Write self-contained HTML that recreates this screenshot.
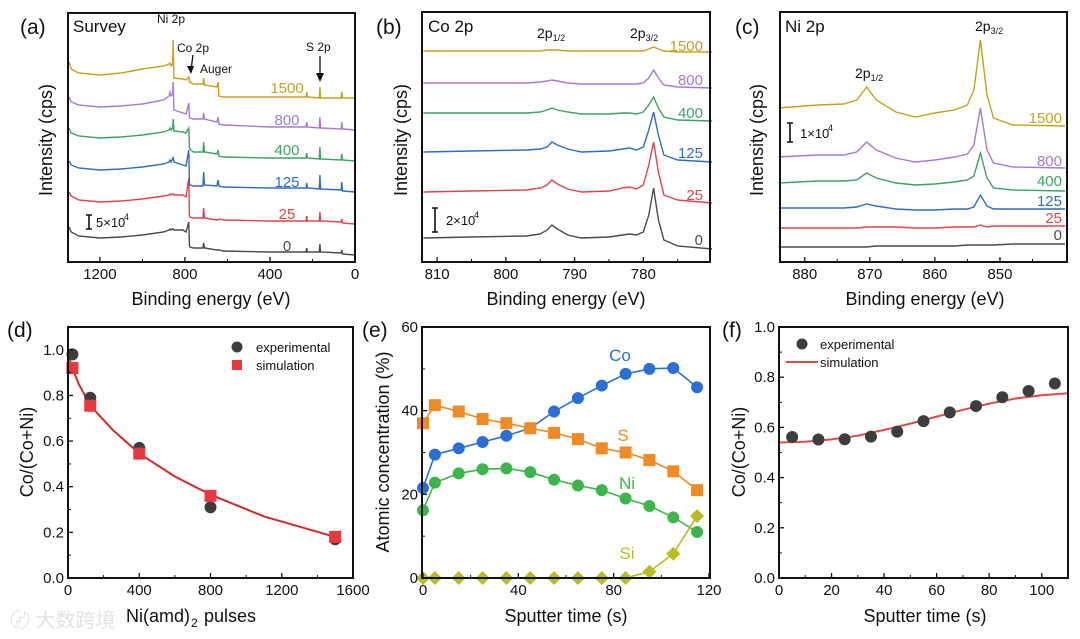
<!DOCTYPE html>
<html><head><meta charset="utf-8"><style>
html,body{margin:0;padding:0;background:#fff;}
svg{display:block;font-family:"Liberation Sans","Noto Sans CJK SC",sans-serif;}
</style></head><body>
<svg id="fig" width="1080" height="639" viewBox="0 0 1080 639" xmlns="http://www.w3.org/2000/svg"></svg>
<script>
// ---------- Panel (a) survey data ----------
const aBE=[1345,1335,1300,1200,1100,1000,900,875,870,865,858,855,852,810,795,782,779,776,760,715,712,708,650,644,640,620,400,230,227,224,168,165,162,65,62,59,0];
const aS0=[35,30,26,24,25,27,30,32,33,32,33,33,32,32,30,40,17,15,14,14,19,14,12,12,12,11,10,10,14,10,10,18,10,9,12,8,7];
const aS25=[70,66,62,60,61,63,66,67,68,67,68,68,67,67,65,84,47,45,44,44,54,44,42,42,43,42,41,41,46,41,41,50,41,40,43,39,38];
const aS125=[101,97,94,92,93,95,98,100,102,100,103,105,100,97,96,112,79,77,76,76,90,77,76,82,76,75,74,74,79,74,73,87,73,72,80,71,70];
const aS400=[134,129,126,124,125,127,130,132,134,132,134,143,131,130,129,134,115,113,110,110,120,110,108,112,106,105,104,104,109,104,103,115,103,102,108,102,101];
const aS800=[165,160,157,155,156,158,162,166,170,166,168,180,152,149,148,159,145,144,143,143,149,143,140,145,138,137,135,135,140,135,134,145,134,133,140,133,132];
const aS1500=[200,193,189,187,189,193,196,198,199,196,198,222,184,183,182,185,180,180,178,178,184,177,175,180,166,165,165,165,170,165,164,175,164,164,170,164,164];
const aTicks=[1200,800,400,0];
// ---------- Panel (b) Co 2p ----------
const bBE=[812,805,797,795,794,793.3,792.5,791,789,785,783,782,781,780,779.2,778.5,777.8,777,775,770];
const bS0=[24,25,26,28,32,37,33,27,24,25,27,28,27,30,47,74,42,22,16,13];
const bS25=[70,71,72,74,77,82,78,73,70,71,74,75,73,77,97,120,90,67,62,59];
const bS125=[110,111,112,113,115,120,117,113,110,111,113,114,112,115,132,150,127,107,102,100];
const bS400=[149,149,149,150,152,154,152,150,148,148,149,149,148,150,157,165,154,145,142,141];
const bS800=[179,179,179,180,181,182,181,179,178,178,178,178,178,179,184,192,184,177,175,174];
const bS1500=[211,211,211,211,212,212,212,211,211,211,211,211,211,211,213,215,213,211,210,210];
const bTicks=[810,800,790,780];
// ---------- Panel (c) Ni 2p ----------
const cBE=[884,878,874,872,870.5,869,866,863,860,857,855,854,853,852,851,848,840];
const cS0=[15,15,15,15,15,16,16,16,16,16,17,17,17,17,17,18,18];
const cS25=[34,34,34,34,35,35,35,34,34,35,35,35,37,35,36,36,36];
const cS125=[54,54,54,55,58,56,53,52,52,53,53,55,67,56,53,53,53];
const cS400=[79,81,81,82,89,84,79,77,78,80,82,86,109,84,74,72,71];
const cS800=[105,107,107,110,120,112,104,100,102,105,108,117,154,112,99,95,94];
const cS1500=[154,157,158,162,175,162,150,145,149,152,157,172,222,167,144,137,136];
const cTicks=[880,870,860,850];
// ---------- Panel (d) ----------
const dPulses=[25,125,400,800,1500];
const dExp=[0.98,0.79,0.57,0.31,0.17];
const dSim=[0.92,0.755,0.545,0.36,0.18];
const dFitX=[0,25,60,125,250,400,600,800,1100,1500];
const dFitY=[0.98,0.92,0.85,0.755,0.65,0.545,0.445,0.365,0.27,0.18];
const dXTicks=[0,400,800,1200,1600];
const dYTicks=[0,0.2,0.4,0.6,0.8,1.0];
// ---------- Panel (e) ----------
const eTime=[0,5,15,25,35,45,55,65,75,85,95,105,115];
const eCo=[21.5,29.5,31,32.5,34,35.8,39.8,43,46,48.8,50,50.2,45.6];
const eS=[37,41.3,39.8,38,37,35.8,34.7,33.2,31,30,28.2,25.5,21];
const eNi=[16.2,22.8,25,26,26.2,25.3,23.5,22.1,21,19,17.2,14.5,11];
const eSi=[0,0,0,0,0,0,0,0,0,0,1.5,5.8,14.8];
const eXTicks=[0,40,80,120];
const eYTicks=[0,20,40,60];
// ---------- Panel (f) ----------
const fTime=[5,15,25,35,45,55,65,75,85,95,105];
const fExp=[0.562,0.552,0.553,0.563,0.583,0.625,0.66,0.685,0.72,0.745,0.775];
const fSimT=[0,10,20,30,40,50,60,70,80,90,100,110];
const fSimY=[0.54,0.543,0.552,0.567,0.59,0.615,0.643,0.67,0.695,0.715,0.728,0.736];
const fXTicks=[0,20,40,60,80,100];
const fYTicks=[0,0.2,0.4,0.6,0.8,1.0];

const NS="http://www.w3.org/2000/svg";
const svg=document.getElementById('fig');
function el(tag,attrs,parent){const e=document.createElementNS(NS,tag);for(const k in attrs)e.setAttribute(k,attrs[k]);(parent||svg).appendChild(e);return e;}
function txt(s,x,y,size,attrs,parent){const t=el('text',Object.assign({x:x,y:y,'font-size':size,fill:'#111'},attrs||{}),parent);t.textContent=s;return t;}
function lin(d0,d1,r0,r1){return v=>r0+(v-d0)*(r1-r0)/(d1-d0);}
const COL={c0:'#4a4a4a',c25:'#e0444c',c125:'#2f6cc4',c400:'#3ea266',c800:'#a57ad6',c1500:'#c8a020'};

function frame(g,L,T,R,B){el('rect',{x:L,y:T,width:R-L,height:B-T,fill:'none',stroke:'#111','stroke-width':2},g);}
function xticks(g,sx,ticks,minors,B,fmt){
  ticks.forEach(v=>{const x=sx(v);el('line',{x1:x,y1:B,x2:x,y2:B-5,stroke:'#111','stroke-width':1.3},g);
    const t=txt(fmt?fmt(v):String(v),x,B+17,15,{'text-anchor':'middle'},g);});
  minors.forEach(v=>{const x=sx(v);el('line',{x1:x,y1:B,x2:x,y2:B-3,stroke:'#111','stroke-width':1},g);});
}
function yticks(g,sy,ticks,minors,L,fmt){
  ticks.forEach(v=>{const y=sy(v);el('line',{x1:L,y1:y,x2:L+5,y2:y,stroke:'#111','stroke-width':1.3},g);
    txt(fmt?fmt(v):String(v),L-4,y+5,15,{'text-anchor':'end'},g);});
  minors.forEach(v=>{const y=sy(v);el('line',{x1:L,y1:y,x2:L+3,y2:y,stroke:'#111','stroke-width':1},g);});
}
function pathOf(xs,ys,sx,sy){return xs.map((v,i)=>(i?'L':'M')+sx(v).toFixed(1)+','+sy(ys[i]).toFixed(1)).join('');}

// ===== Panel (a) =====
(function(){
  const g=el('g',{});  
  const L=68,R=355,T=13,B=262;
  const sx=lin(1350,0,L,R), sy=lin(0,249,B,T);
  const series=[[aS0,COL.c0,'0',246],[aS25,COL.c25,'25',214],[aS125,COL.c125,'125',182],[aS400,COL.c400,'400',150],[aS800,COL.c800,'800',120],[aS1500,COL.c1500,'1500',88]];
  series.forEach(s=>{
    const p=el('path',{d:pathOf(aBE,s[0],sx,sy),fill:'none',stroke:s[1],'stroke-width':1.4},g);
     
    const t=txt(s[2],287,s[3]+5,15,{'text-anchor':'middle',fill:s[1]},g);
     
  });
  frame(g,L,T,R,B);
  xticks(g,sx,aTicks,[1000,600,200],B);
  txt('Binding energy (eV)',211,305,18,{'text-anchor':'middle'},g);
  txt('Intensity (cps)',0,0,18,{'text-anchor':'middle',transform:'translate(52,140) rotate(-90)'},g);
  txt('(a)',20,34,21,{},g);
  txt('Survey',73,32,17,{},g);
  txt('Ni 2p',157,23,12,{},g);
  txt('Co 2p',177,52,12,{},g);
  txt('Auger',200,73,12,{},g);
  txt('S 2p',306,51,12,{},g);
  el('line',{x1:193,y1:55,x2:191,y2:70,stroke:'#111','stroke-width':1.3},g);
  el('path',{d:'M187,66 L191,74 L194,66 Z',fill:'#111'},g);
  el('line',{x1:320,y1:56,x2:320,y2:76,stroke:'#111','stroke-width':1.3},g);
  el('path',{d:'M316,73 L320,82 L324,73 Z',fill:'#111'},g);
  el('path',{d:'M86,215 L92,215 M89,215 L89,229 M86,229 L92,229',stroke:'#111','stroke-width':1.6},g);
  const sb=txt('5×10',96,227,13,{},g); 
  txt('4',124,220,9,{},g);
})();

// ===== Panel (b) =====
(function(){
  const g=el('g',{});  
  const L=422,R=710,T=12,B=262;
  const sx=lin(812.2,770.3,L,R), sy=lin(0,250,B,T);
  const series=[[bS0,COL.c0,'0',240],[bS25,COL.c25,'25',195],[bS125,COL.c125,'125',153],[bS400,COL.c400,'400',113],[bS800,COL.c800,'800',80],[bS1500,COL.c1500,'1500',46]];
  series.forEach(s=>{
    const p=el('path',{d:pathOf(bBE,s[0],sx,sy),fill:'none',stroke:s[1],'stroke-width':1.4},g);
     
    txt(s[2],703,s[3]+5,15,{'text-anchor':'end',fill:s[1]},g);
  });
  frame(g,L,T,R,B);
  xticks(g,sx,bTicks,[805,795,785,775],B);
  txt('Binding energy (eV)',566,305,18,{'text-anchor':'middle'},g);
  txt('Intensity (cps)',0,0,18,{'text-anchor':'middle',transform:'translate(407,140) rotate(-90)'},g);
  txt('(b)',376,34,21,{},g);
  txt('Co 2p',428,32,17,{},g);
  const p1=txt('2p',537,38,14,{},g); const s1=el('tspan',{'font-size':9,dy:3},p1); s1.textContent='1/2';
  const p2=txt('2p',630,38,14,{},g); const s2=el('tspan',{'font-size':9,dy:3},p2); s2.textContent='3/2';
  el('path',{d:'M432,208 L438,208 M435,208 L435,232 M432,232 L438,232',stroke:'#111','stroke-width':1.6},g);
  txt('2×10',446,225,13,{},g);
  txt('4',474,218,9,{},g);
})();

// ===== Panel (c) =====
(function(){
  const g=el('g',{});  
  const L=780,R=1067,T=12,B=262;
  const sx=lin(883.8,839.7,L,R), sy=lin(0,250,B,T);
  const series=[[cS0,COL.c0,'0',235],[cS25,COL.c25,'25',218],[cS125,COL.c125,'125',201],[cS400,COL.c400,'400',181],[cS800,COL.c800,'800',161],[cS1500,COL.c1500,'1500',118]];
  series.forEach(s=>{
    const p=el('path',{d:pathOf(cBE,s[0],sx,sy),fill:'none',stroke:s[1],'stroke-width':1.4},g);
     
    txt(s[2],1062,s[3]+5,15,{'text-anchor':'end',fill:s[1]},g);
  });
  frame(g,L,T,R,B);
  xticks(g,sx,cTicks,[875,865,855,845],B);
  txt('Binding energy (eV)',925,305,18,{'text-anchor':'middle'},g);
  txt('Intensity (cps)',0,0,18,{'text-anchor':'middle',transform:'translate(763,140) rotate(-90)'},g);
  txt('(c)',735,34,21,{},g);
  txt('Ni 2p',785,32,17,{},g);
  const p1=txt('2p',855,78,14,{},g); const s1=el('tspan',{'font-size':9,dy:3},p1); s1.textContent='1/2';
  const p2=txt('2p',975,31,14,{},g); const s2=el('tspan',{'font-size':9,dy:3},p2); s2.textContent='3/2';
  el('path',{d:'M787,123 L793,123 M790,123 L790,142 M787,142 L793,142',stroke:'#111','stroke-width':1.6},g);
  txt('1×10',800,138,13,{},g);
  txt('4',828,131,9,{},g);
})();

// ===== Panel (d) =====
(function(){
  const g=el('g',{});  
  const L=68,R=353,T=327,B=578;
  const sx=lin(0,1600,L,R), sy=lin(0,1.1,B,T);
  const fit=el('path',{d:pathOf(dFitX,dFitY,sx,sy),fill:'none',stroke:'#d42a2a','stroke-width':2},g);
   
  dPulses.forEach((p,i)=>{
    const c=el('circle',{cx:sx(p),cy:sy(dExp[i]),r:6,fill:'#3d3d3d'},g);
     
  });
  dPulses.forEach((p,i)=>{
    const r=el('rect',{x:sx(p)-6,y:sy(dSim[i])-6,width:12,height:12,fill:'#e8383e'},g);
     
  });
  frame(g,L,T,R,B);
  xticks(g,sx,dXTicks,[200,600,1000,1400],B);
  yticks(g,sy,dYTicks,[0.1,0.3,0.5,0.7,0.9],L,v=>v.toFixed(1));
  txt('Ni(amd)',190,622,18,{'text-anchor':'end'},g);
  txt('2',191,627,12,{},g); txt('pulses',204,622,18,{},g);
  txt('Co/(Co+Ni)',0,0,18,{'text-anchor':'middle',transform:'translate(33,452) rotate(-90)'},g);
  txt('(d)',7,337,21,{},g);
  el('circle',{cx:237,cy:347,r:5.5,fill:'#3d3d3d'},g);
  txt('experimental',256,352,13,{},g);
  el('rect',{x:232,y:360,width:10,height:10,fill:'#e8383e'},g);
  txt('simulation',256,370,13,{},g);
  const wm=txt('〄 大数跨境',10,627,20,{fill:'#dcdcdc',opacity:0.8},g);
   
})();

// ===== Panel (e) =====
(function(){
  const g=el('g',{});  
  const L=422,R=710,T=327,B=578;
  const sx=lin(0,120,423,709), sy=lin(0,60,B,T);
  const series=[['co',eCo,'#2a6fd6','c'],['s',eS,'#f08a24','s'],['ni',eNi,'#3db54a','c'],['si',eSi,'#b8bd22','d']];
  series.forEach(s=>{
    const p=el('path',{d:pathOf(eTime,s[1],sx,sy),fill:'none',stroke:s[2],'stroke-width':1.6},g);
     
    eTime.forEach((t,i)=>{
      const x=sx(t),y=sy(s[1][i]);let m;
      if(s[3]==='c') m=el('circle',{cx:x,cy:y,r:6,fill:s[2]},g);
      else if(s[3]==='s') m=el('rect',{x:x-6,y:y-6,width:12,height:12,fill:s[2]},g);
      else m=el('path',{d:`M${x},${y-7}L${x+7},${y}L${x},${y+7}L${x-7},${y}Z`,fill:s[2]},g);
       
    });
  });
  frame(g,L,T,R,B);
  xticks(g,sx,eXTicks,[20,60,100],B);
  yticks(g,sy,eYTicks,[10,30,50],L);
  txt('Sputter time (s)',566,622,18,{'text-anchor':'middle'},g);
  txt('Atomic concentration (%)',0,0,18,{'text-anchor':'middle',transform:'translate(389,452) rotate(-90)'},g);
  txt('(e)',362,337,21,{},g);
  txt('Co',620,361,17,{'text-anchor':'middle',fill:'#2a6fd6'},g);
  txt('S',623,441,17,{'text-anchor':'middle',fill:'#f08a24'},g);
  txt('Ni',627,489,17,{'text-anchor':'middle',fill:'#3db54a'},g);
  txt('Si',627,559,17,{'text-anchor':'middle',fill:'#b8bd22'},g);
})();

// ===== Panel (f) =====
(function(){
  const g=el('g',{});  
  const L=779,R=1068,T=327,B=578;
  const sx=lin(0,110,L,R), sy=lin(0,1.0,B,T);
  const sim=el('path',{d:pathOf(fSimT,fSimY,sx,sy),fill:'none',stroke:'#dd4a4a','stroke-width':2},g);
   
  fTime.forEach((t,i)=>{
    const c=el('circle',{cx:sx(t),cy:sy(fExp[i]),r:6,fill:'#3d3d3d'},g);
     
  });
  frame(g,L,T,R,B);
  xticks(g,sx,fXTicks,[10,30,50,70,90],B);
  yticks(g,sy,fYTicks,[0.1,0.3,0.5,0.7,0.9],L,v=>v.toFixed(1));
  txt('Sputter time (s)',925,622,18,{'text-anchor':'middle'},g);
  txt('Co/(Co+Ni)',0,0,18,{'text-anchor':'middle',transform:'translate(745,452) rotate(-90)'},g);
  txt('(f)',722,337,21,{},g);
  el('circle',{cx:802,cy:344,r:5.5,fill:'#3d3d3d'},g);
  txt('experimental',820,349,13,{},g);
  el('line',{x1:786,y1:362,x2:818,y2:362,stroke:'#dd4a4a','stroke-width':2},g);
  txt('simulation',820,367,13,{},g);
})();
</script>
</body></html>
